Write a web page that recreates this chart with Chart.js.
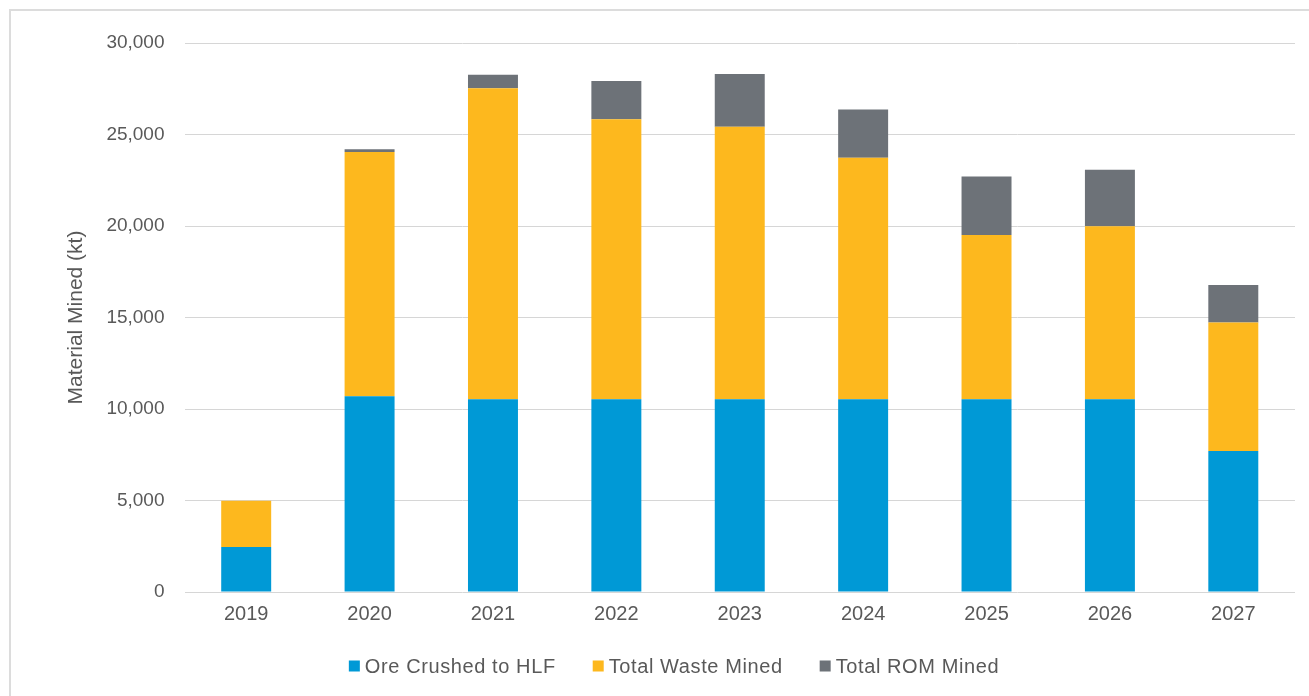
<!DOCTYPE html>
<html>
<head>
<meta charset="utf-8">
<script src="https://cdn.jsdelivr.net/npm/chart.js@4/dist/chart.umd.min.js"></script>
<style>
  html, body { margin: 0; padding: 0; background: #ffffff; overflow: hidden; }
  #frame { position: absolute; left: 9px; top: 9px; width: 1400px; height: 800px; border: 2px solid #dcdcdc; box-sizing: border-box; }
  #wrap { position: absolute; left: 0; top: 0; width: 1309px; height: 696px; }
</style>
</head>
<body>
<div id="frame"></div>
<div id="wrap"><canvas id="chart" width="1309" height="696"></canvas></div>
<script>
// Annual material movement (kt)
const years = ['2019', '2020', '2021', '2022', '2023', '2024', '2025', '2026', '2027'];
const oreCrushed = [2460, 10700, 10530, 10530, 10530, 10530, 10530, 10530, 7700];
const wasteMined = [2520, 13350, 17000, 15300, 14900, 13200, 8980, 9450, 7020];
const romMined = [0, 140, 730, 2100, 2880, 2640, 3190, 3100, 2060];
const seriesNames = ['Ore Crushed to HLF', 'Total Waste Mined', 'Total ROM Mined'];
const yTicks = [0, 5000, 10000, 15000, 20000, 25000, 30000];
const yTitle = 'Material Mined (kt)';

const COLORS = ['rgb(0,153,214)', 'rgb(253,184,30)', 'rgb(109,114,120)'];
const TEXT = '#595959';
const FONT = "'Liberation Sans', Arial, sans-serif";

// Legend drawn along the bottom, centred as one row
const bottomLegend = {
  id: 'bottomLegend',
  afterDraw(chart) {
    const ctx = chart.ctx;
    const items = chart.data.datasets.map(d => ({ text: d.label, color: d.backgroundColor }));
    const box = 11, gapText = 5, gapItem = 37, cy = 666;
    ctx.save();
    ctx.font = '20px ' + FONT;
    ctx.letterSpacing = '0.6px';
    ctx.textBaseline = 'middle';
    ctx.textAlign = 'left';
    const widths = items.map(it => ctx.measureText(it.text).width);
    let total = 0;
    widths.forEach((w, i) => { total += box + gapText + w + (i < widths.length - 1 ? gapItem : 0); });
    let x = 674 - total / 2;
    items.forEach((it, i) => {
      ctx.fillStyle = it.color;
      ctx.fillRect(x, cy - box / 2, box, box);
      x += box + gapText;
      ctx.fillStyle = TEXT;
      ctx.fillText(it.text, x, cy + 1);
      x += widths[i] + gapItem;
    });
    ctx.restore();
  }
};

new Chart(document.getElementById('chart'), {
  type: 'bar',
  data: {
    labels: years,
    datasets: [
      { label: seriesNames[0], data: oreCrushed, backgroundColor: COLORS[0] },
      { label: seriesNames[1], data: wasteMined, backgroundColor: COLORS[1] },
      { label: seriesNames[2], data: romMined, backgroundColor: COLORS[2] }
    ]
  },
  options: {
    responsive: false,
    animation: false,
    events: [],
    datasets: { bar: { categoryPercentage: 1.0, barPercentage: 0.405, borderWidth: 0 } },
    layout: { padding: { left: 50, right: 14, top: 43, bottom: 54 } },
    plugins: {
      legend: { display: false },
      tooltip: { enabled: false }
    },
    scales: {
      x: {
        stacked: true,
        grid: { display: false, drawTicks: false },
        border: { display: false },
        ticks: { color: TEXT, font: { family: FONT, size: 20 }, padding: 10, maxRotation: 0 },
        afterFit(scale) { scale.height = 50; }
      },
      y: {
        stacked: true,
        min: 0,
        max: 30000,
        afterBuildTicks(scale) { scale.ticks = yTicks.map(v => ({ value: v })); },
        ticks: {
          color: TEXT,
          font: { family: FONT, size: 19 },
          padding: 20,
          callback: v => v.toLocaleString('en-US')
        },
        grid: { color: '#d6d6d6', lineWidth: 1, drawTicks: false },
        border: { display: false },
        title: {
          display: true,
          text: yTitle,
          color: TEXT,
          font: { family: FONT, size: 21, weight: 'normal' },
          padding: { top: 14, bottom: 0 }
        },
        afterFit(scale) { scale.width = 134.5; }
      }
    }
  },
  plugins: [bottomLegend]
});
</script>
</body>
</html>
